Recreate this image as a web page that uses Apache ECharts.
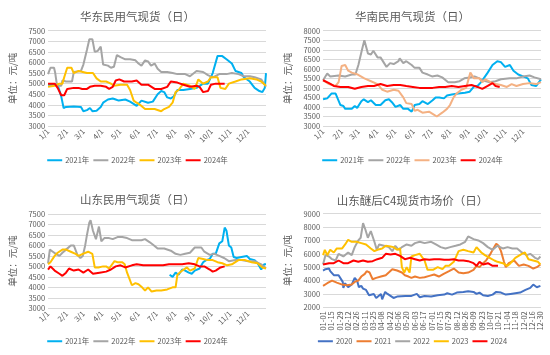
<!DOCTYPE html>
<html><head><meta charset="utf-8">
<script src="https://cdn.jsdelivr.net/npm/echarts@6/dist/echarts.min.js"></script>
<style>
html,body{margin:0;padding:0;background:#fff;}
.p{position:absolute;}
</style></head>
<body>
<div id="c1" class="p" style="left:0;top:0;width:275px;height:178px"></div>
<div id="c2" class="p" style="left:275px;top:0;width:275px;height:178px"></div>
<div id="c3" class="p" style="left:0;top:178px;width:275px;height:177px"></div>
<div id="c4" class="p" style="left:275px;top:178px;width:275px;height:177px"></div>
<script>
// ---- tick labels ----
const monthLabels = ['1/1','2/1','3/1','4/1','5/1','6/1','7/1','8/1','9/1','10/1','11/1','12/1'];
const monthStartDays = [0,31,59,90,120,151,181,212,243,273,304,334];
const c4Labels = ['01-01','01-15','01-29','02-12','02-26','03-11','03-25','04-08','04-22','05-06','05-20','06-03','06-17','07-01','07-15','07-29','08-12','08-26','09-09','09-23','10-07','10-21','11-04','11-18','12-02','12-16','12-30'];
const c4LabelDays = [0,14,28,42,56,70,84,98,112,126,140,154,168,182,196,210,224,238,252,266,280,294,308,322,336,350,364];

// ---- 华东民用气现货 [day of year, 元/吨] ----
const east2021 = [[0,4950],[16,4950],[22,4400],[26,3850],[30,3900],[43,3920],[55,3900],[59,3700],[65,3750],[70,3850],[74,3700],[81,3720],[88,3900],[92,4100],[100,4250],[108,4300],[113,4250],[118,4200],[129,4250],[137,4150],[148,3950],[156,4200],[167,4100],[175,4150],[183,4500],[189,4650],[194,4600],[199,4350],[205,4300],[210,4400],[216,4700],[226,4700],[237,4750],[248,4800],[259,5000],[267,5000],[275,5500],[283,6300],[291,6300],[298,6150],[307,5950],[313,5600],[323,5500],[327,5300],[337,5100],[345,4800],[353,4650],[358,4600],[362,4800],[364,5500]];
const east2022 = [[0,5450],[4,5750],[10,5750],[12,5500],[15,4900],[22,4900],[24,5150],[30,5100],[40,5100],[43,5550],[55,5600],[59,5900],[65,6600],[69,7100],[74,7100],[78,6500],[83,6550],[88,6750],[92,5900],[100,5850],[105,5750],[110,5800],[115,6350],[121,6250],[129,6150],[137,6150],[146,6100],[151,5950],[156,5850],[162,6100],[167,6050],[172,5850],[178,5950],[183,5700],[189,5550],[199,5550],[208,5500],[216,5450],[229,5450],[237,5350],[248,5600],[259,5550],[267,5400],[275,5300],[286,5450],[298,5450],[307,5500],[318,5450],[327,5350],[337,5350],[345,5300],[356,5200],[364,4850]];
const east2023 = [[0,4850],[11,4900],[19,5000],[24,5000],[27,5300],[32,5750],[39,5750],[43,5500],[51,5600],[65,5500],[75,5500],[81,5250],[88,5100],[97,5100],[105,5000],[110,4900],[121,4950],[132,4950],[137,4700],[143,4200],[148,4100],[156,3950],[162,3800],[178,3800],[189,3700],[194,3800],[202,3900],[208,4100],[213,4600],[218,4700],[226,5000],[237,4900],[245,4750],[251,5200],[259,5000],[267,5100],[272,5300],[283,5300],[288,4800],[296,4750],[302,5000],[313,5100],[323,5200],[337,5250],[348,5200],[356,5100],[364,4900]];
const east2024 = [[0,5000],[11,5000],[16,4800],[22,4450],[27,4450],[32,4750],[43,4800],[51,4800],[57,4750],[65,4750],[70,4850],[78,4900],[88,4900],[97,4850],[102,4750],[108,4850],[113,5150],[119,5200],[127,5100],[140,5100],[148,5150],[156,4950],[167,4950],[178,4750],[189,4750],[199,4850],[205,5100],[216,5050],[226,4950],[237,4850],[248,4900],[253,4850],[259,4600],[267,4650],[272,4950],[280,5000],[295,5000]];

// ---- 华南民用气现货 ----
const south2021 = [[0,4400],[7,4450],[14,4700],[21,4700],[25,4400],[29,4100],[34,4050],[37,3900],[48,3900],[53,4050],[57,3950],[64,4300],[68,4400],[75,4250],[80,4350],[88,4100],[96,4100],[104,4350],[110,4400],[115,4250],[121,4000],[129,4100],[134,3900],[142,3900],[148,3750],[153,4100],[161,4150],[166,4300],[175,4150],[183,4350],[188,4500],[194,4500],[202,4450],[207,4600],[215,4650],[226,4700],[237,4750],[245,4800],[253,5100],[258,5100],[264,5300],[275,5800],[283,6200],[291,6400],[297,6350],[304,6100],[312,6200],[318,5900],[326,5700],[334,5600],[342,5500],[348,5150],[356,5100],[364,5450]];
const south2022 = [[0,5400],[7,5750],[12,5600],[26,5650],[37,5600],[48,5700],[54,5700],[59,6200],[65,7000],[69,7500],[75,6800],[80,6750],[84,6950],[91,6600],[96,6600],[102,6300],[106,6100],[112,6300],[118,6250],[126,6400],[128,6550],[134,6300],[139,6400],[148,6200],[153,6050],[161,6050],[166,5800],[175,5700],[182,5600],[191,5650],[199,5550],[209,5300],[220,5300],[228,5350],[236,5500],[245,5550],[253,5600],[261,5500],[266,5400],[277,5300],[288,5350],[297,5450],[312,5500],[323,5500],[334,5600],[345,5650],[353,5550],[364,5450]];
const south2023 = [[0,5400],[10,5200],[21,5100],[26,5300],[31,6150],[37,6200],[42,5900],[48,5800],[58,5700],[69,5500],[80,5350],[91,5200],[99,4900],[107,4800],[118,4900],[126,4850],[134,4500],[139,4200],[148,4150],[153,3800],[158,3850],[166,3700],[177,3750],[185,3600],[190,3500],[199,3700],[207,3900],[212,4100],[218,4500],[223,4700],[231,4900],[239,5000],[246,5800],[252,5500],[261,5500],[266,5300],[271,5450],[280,5300],[288,5200],[297,5150],[307,5050],[315,5200],[323,5100],[334,5200],[345,5250],[356,5200],[364,5300]];
const south2024 = [[0,5400],[10,5250],[18,5100],[29,5050],[42,5050],[53,4950],[64,5050],[75,5100],[85,5100],[96,5200],[107,5100],[118,5150],[129,5150],[139,5100],[150,5050],[161,5000],[172,5000],[183,5000],[194,5050],[204,5050],[215,5100],[226,5050],[237,5100],[248,5150],[258,5050],[266,4950],[275,5100],[283,5250],[288,5100],[295,5050]];

// ---- 山东民用气现货 ----
const sd2021 = [[203,4600],[208,4500],[213,4700],[218,4600],[224,4850],[229,4800],[235,4700],[240,4650],[245,4800],[253,4900],[259,5200],[264,5300],[270,5350],[275,5600],[280,5600],[286,6100],[291,6200],[295,6850],[298,6700],[302,6000],[306,5900],[310,5450],[315,5400],[323,5450],[332,5500],[337,5350],[345,5300],[350,5150],[356,4850],[361,5100],[364,5100]];
const sd2022 = [[0,5150],[3,5800],[8,5700],[13,5600],[19,5500],[24,5650],[30,5800],[38,6000],[43,6000],[49,5550],[54,5400],[58,5500],[62,6000],[65,6500],[69,7100],[71,7200],[75,6700],[80,6300],[85,6900],[89,6200],[94,6350],[102,6350],[108,6300],[116,6400],[124,6400],[132,6350],[140,6250],[148,6250],[156,6250],[162,6300],[170,6150],[177,6000],[183,5850],[194,5850],[205,5750],[213,5600],[221,5550],[229,5600],[237,5650],[245,5900],[256,5900],[261,5700],[270,5550],[278,5600],[286,5500],[294,5400],[302,5250],[313,5300],[323,5300],[334,5250],[345,5250],[356,5100],[364,4900]];
const sd2023 = [[0,5100],[4,5200],[11,5500],[16,5650],[24,5800],[30,5800],[38,5700],[46,5600],[51,5500],[58,5600],[67,5700],[74,5600],[78,4950],[84,4950],[92,5000],[97,5000],[102,4900],[111,5250],[116,5200],[124,5200],[128,5100],[132,4700],[136,4400],[140,4100],[146,4200],[151,4150],[157,4000],[162,3850],[167,4000],[173,3800],[181,3850],[189,3850],[199,3900],[208,4000],[213,4000],[216,4600],[224,4800],[232,4950],[237,4800],[245,4900],[251,5400],[259,5350],[267,5300],[275,5300],[283,5200],[291,5150],[299,5050],[307,5100],[318,5300],[329,5300],[340,5200],[350,5150],[358,4950],[364,4900]];
const sd2024 = [[0,4850],[4,5000],[11,4800],[19,4650],[24,4550],[30,4700],[35,4900],[43,4800],[51,4850],[59,4700],[67,4850],[75,4650],[86,4700],[97,4750],[105,4850],[113,5000],[121,5050],[129,4950],[140,5050],[148,5100],[159,5050],[170,5050],[181,5050],[192,5050],[202,5100],[213,5100],[224,5100],[235,5150],[245,5100],[253,5000],[261,5000],[270,4850],[275,4750],[280,4800],[288,4950],[295,5000]];

// ---- 山东醚后C4现货市场价 ----
const c4y2020 = [[0,4750],[4,4850],[10,4900],[12,4700],[18,4400],[26,4400],[29,4350],[33,3900],[34,3450],[37,3800],[40,3900],[42,3500],[48,3700],[53,4200],[57,4000],[60,3500],[64,3600],[67,3400],[72,3300],[77,2900],[80,2800],[85,3000],[89,2700],[92,2700],[97,3000],[99,2600],[104,3150],[108,3000],[113,2850],[118,2700],[124,2800],[138,2850],[148,2850],[157,3000],[162,2750],[170,2850],[181,2800],[192,2900],[203,2950],[208,3050],[216,2950],[224,3100],[235,3150],[243,3200],[252,3150],[257,3000],[262,3100],[268,2900],[276,2850],[284,2950],[290,3150],[298,3100],[306,2950],[314,3000],[322,3050],[330,3100],[339,3300],[347,3450],[352,3700],[358,3500],[364,3600]];
const c4y2021 = [[0,3600],[7,3800],[15,4000],[23,3850],[32,3700],[40,3650],[48,3700],[53,3900],[59,4000],[64,4300],[70,4500],[73,4700],[78,4600],[83,4100],[89,4200],[97,4300],[105,4400],[110,4600],[116,4850],[124,4750],[132,4600],[137,4400],[143,4300],[148,4200],[154,4300],[162,4200],[170,4250],[178,4350],[186,4450],[194,4300],[202,4500],[211,4700],[219,4900],[227,4600],[235,4550],[243,4600],[252,4800],[257,5100],[262,5000],[268,5300],[273,5500],[279,5900],[284,6300],[290,6750],[294,6600],[298,6200],[303,5400],[306,5000],[311,5300],[320,5500],[328,5100],[336,5200],[344,5100],[352,4900],[358,5000],[364,5200]];
const c4y2022 = [[0,5200],[4,5900],[10,5800],[15,5600],[21,5500],[26,6000],[34,5800],[42,6100],[48,5900],[53,6500],[59,7000],[63,7200],[67,8300],[71,7800],[75,7200],[80,7700],[86,6900],[90,6300],[94,6700],[102,6600],[110,6500],[116,6200],[121,6600],[127,6300],[132,6500],[140,6700],[148,6600],[154,6800],[162,6900],[170,6800],[181,6900],[189,6700],[197,6500],[205,6400],[213,6500],[222,6600],[230,6700],[238,6900],[243,7300],[252,7100],[260,7000],[268,6800],[276,6500],[284,6300],[292,6600],[301,6400],[309,6500],[317,6400],[325,6400],[333,6100],[341,5900],[347,6000],[355,5700],[360,5600],[364,5800]];
const c4y2023 = [[0,5900],[3,6300],[7,5900],[12,6300],[18,6100],[23,6400],[32,6400],[37,6700],[42,7050],[48,6900],[56,6900],[64,6800],[72,6700],[80,6400],[86,6200],[91,6300],[99,6400],[105,6600],[113,6550],[118,6500],[124,6300],[129,6400],[132,5000],[136,4600],[140,5000],[145,4600],[148,5800],[154,5900],[162,6000],[170,5500],[175,4800],[184,4800],[192,5000],[200,4850],[205,5100],[211,5100],[219,5400],[227,6200],[235,6300],[243,6200],[252,6100],[257,6500],[265,6100],[271,5900],[279,5700],[287,5500],[292,5400],[301,5300],[309,5100],[314,5300],[322,5700],[333,6000],[338,6100],[344,5600],[352,5500],[360,5400],[364,5200]];
const c4y2024 = [[0,5200],[10,5300],[18,5300],[26,5500],[34,5300],[42,5300],[51,5500],[59,5400],[67,5500],[75,5400],[83,5450],[91,5600],[99,5700],[105,6000],[113,5950],[121,6000],[129,5850],[137,5600],[146,5700],[154,5600],[162,5500],[170,5600],[178,5550],[186,5600],[195,5600],[203,5550],[211,5550],[219,5600],[227,5500],[235,5500],[243,5450],[252,5300],[257,5100],[262,5400],[268,5200],[276,5300],[284,5100],[293,5100]];

const TXT = '#595959';
const FONT = 'Noto Sans CJK SC';

function makeChart(id, cfg) {
  const chart = echarts.init(document.getElementById(id), null, {renderer: 'canvas'});
  chart.setOption({
    animation: false,
    backgroundColor: '#fff',
    textStyle: {fontFamily: FONT},
    title: {
      text: cfg.title, left: 'center', top: cfg.titleTop,
      textStyle: {fontSize: 11.5, fontWeight: 'normal', color: TXT, fontFamily: FONT}
    },
    legend: {
      bottom: cfg.legendBottom, left: 'center',
      icon: 'rect', itemWidth: 15, itemHeight: 2, itemGap: 4,
      textStyle: {fontSize: 7.5, color: TXT, fontFamily: FONT, padding: [0,0,0,-2]},
      data: cfg.series.map(s => s.name)
    },
    grid: {left: cfg.grid.left, right: cfg.grid.right, top: cfg.grid.top, height: cfg.grid.height, containLabel: false},
    xAxis: {
      type: 'value', min: 0, max: cfg.xMax,
      axisLine: {show: false}, axisTick: {show: false}, splitLine: {show: false},
      axisLabel: {
        customValues: cfg.xLabelDays,
        formatter: v => { const i = cfg.xLabelDays.indexOf(v); return i >= 0 ? cfg.xLabels[i] : ''; },
        rotate: cfg.rotate, fontSize: 7.5, color: TXT, margin: 4, fontFamily: FONT
      }
    },
    yAxis: {
      type: 'value', min: cfg.yMin, max: cfg.yMax, interval: cfg.yInt,
      name: '单位：元/吨', nameLocation: 'middle', nameRotate: 90, nameGap: 20,
      nameTextStyle: {fontSize: 9.5, color: TXT, fontFamily: FONT},
      axisLine: {show: false}, axisTick: {show: false},
      axisLabel: {fontSize: 7.5, color: TXT, margin: 3, fontFamily: FONT, formatter: v => String(v)},
      splitLine: {lineStyle: {color: '#D9D9D9', width: 1}}
    },
    series: cfg.series.map(s => ({
      name: s.name, type: 'line', data: s.data, showSymbol: false, symbol: 'none',
      lineStyle: {color: s.color, width: 2}, itemStyle: {color: s.color}
    }))
  });
}

const C21 = '#00B0F0', C22 = '#A5A5A5', C23 = '#FFC000', C24 = '#FF0000', C23s = '#F4B183';

makeChart('c1', {
  title: '华东民用气现货（日）', titleTop: 6, legendBottom: 9,
  grid: {left: 40, right: 9, top: 30.7, height: 95.3},
  xMax: 364, xLabelDays: monthStartDays, xLabels: monthLabels, rotate: 45,
  yMin: 3000, yMax: 7500, yInt: 500,
  series: [
    {name: '2021年', color: C21, data: east2021},
    {name: '2022年', color: C22, data: east2022},
    {name: '2023年', color: C23, data: east2023},
    {name: '2024年', color: C24, data: east2024}
  ]
});
makeChart('c2', {
  title: '华南民用气现货（日）', titleTop: 6, legendBottom: 9,
  grid: {left: 40.7, right: 9, top: 30.7, height: 95.3},
  xMax: 364, xLabelDays: monthStartDays, xLabels: monthLabels, rotate: 45,
  yMin: 3000, yMax: 8000, yInt: 500,
  series: [
    {name: '2021年', color: C21, data: south2021},
    {name: '2022年', color: C22, data: south2022},
    {name: '2023年', color: C23s, data: south2023},
    {name: '2024年', color: C24, data: south2024}
  ]
});
makeChart('c3', {
  title: '山东民用气现货（日）', titleTop: 11, legendBottom: 5,
  grid: {left: 40, right: 9, top: 36, height: 94.3},
  xMax: 364, xLabelDays: monthStartDays, xLabels: monthLabels, rotate: 45,
  yMin: 3000, yMax: 7500, yInt: 500,
  series: [
    {name: '2021年', color: C21, data: sd2021},
    {name: '2022年', color: C22, data: sd2022},
    {name: '2023年', color: C23, data: sd2023},
    {name: '2024年', color: C24, data: sd2024}
  ]
});
makeChart('c4', {
  title: '山东醚后C4现货市场价（日）', titleTop: 12, legendBottom: 5,
  grid: {left: 42.3, right: 9, top: 35.7, height: 93.6},
  xMax: 365, xLabelDays: c4LabelDays, xLabels: c4Labels, rotate: 90,
  yMin: 2000, yMax: 9000, yInt: 1000,
  series: [
    {name: '2020', color: '#4472C4', data: c4y2020},
    {name: '2021', color: '#ED7D31', data: c4y2021},
    {name: '2022', color: C22, data: c4y2022},
    {name: '2023', color: C23, data: c4y2023},
    {name: '2024', color: C24, data: c4y2024}
  ]
});
</script>
</body></html>
